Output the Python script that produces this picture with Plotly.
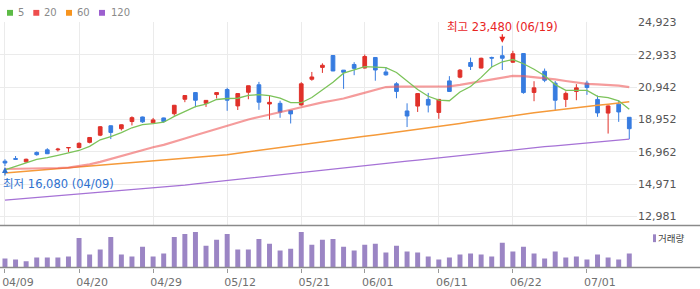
import plotly.graph_objects as go

# ---- data ----
dates = ["04/09","04/10","04/13","04/14","04/15","04/16","04/17","04/20","04/21","04/22",
         "04/23","04/24","04/27","04/28","04/29","04/30","05/04","05/06","05/07","05/08",
         "05/11","05/12","05/13","05/14","05/15","05/18","05/19","05/20","05/21","05/22",
         "05/26","05/27","05/28","05/29","06/01","06/02","06/04","06/05","06/08","06/09",
         "06/10","06/11","06/12","06/15","06/16","06/17","06/18","06/19","06/22","06/23",
         "06/24","06/25","06/26","06/29","06/30","07/01","07/02","07/03","07/06","07/07"]

open_ = [16380,16540,16340,16920,17080,17080,17200,17220,17540,17980,
         18560,18380,18820,19100,18740,19040,19300,20190,20600,19940,
         20480,20790,19780,20620,21080,19900,19940,19500,19840,21420,
         22150,22880,21980,22330,22110,22760,21870,21140,19470,19770,
         20180,19380,21320,21550,22450,22110,22760,22870,22470,23000,
         20610,21910,21180,20180,20670,21180,20180,19340,19890,19080]
high = [16500,16700,16540,16980,17180,17200,17230,17540,17860,18540,
        18580,18640,19140,19120,19040,19060,19840,20430,20620,20140,
        20610,20900,20560,21030,21260,20400,20100,19530,21240,21870,
        22400,22890,21990,22470,22940,22770,22170,21240,19940,20550,
        20580,20190,21610,22050,22750,22750,22810,23480,23170,23020,
        21300,22080,21310,20670,21120,21330,20420,19810,20130,19090]
low = [16080,16480,16280,16720,16820,16980,16940,17180,17480,17920,
       17740,18270,18580,18740,18700,18740,19180,20010,19700,19720,
       20240,19480,19530,20190,19540,18940,19050,18700,19800,21330,
       21810,21920,20830,21670,22090,21330,21640,20250,18480,19410,
       19380,18990,20650,21480,21990,22090,22170,21990,22420,20530,
       20070,21240,19500,19710,20130,20460,19110,18080,18800,17740]
close = [16270,16500,16500,16780,16840,17120,17220,17480,17840,18500,
         18150,18620,19060,18800,18920,18820,19820,20420,20130,20120,
         20600,20130,20540,21020,20010,20000,19400,19290,21140,21560,
         22280,21930,21850,22090,22820,21990,21690,20670,19160,20540,
         19830,20180,20670,21980,22210,22710,22720,22710,22990,20600,
         20890,21360,20130,20550,20890,20910,19350,19780,19410,18380]

ma5 = [15841,16080,16278,16500,16596,16740,16896,17040,17297,17699,
       17897,18137,18436,18634,18694,18778,19138,19438,19737,19893,
       20175,20235,20253,20433,20475,20415,20253,19977,19977,20295,
       20775,21236,21794,21974,22195,22171,22135,21836,21332,20793,
       20373,20133,20097,20637,20972,21536,22171,22495,22633,22375,
       22034,21632,21092,20733,20733,20733,20373,20295,20097,19575]
ma20 = [15901,15907,15919,15931,15943,15961,15990,16068,16188,16338,
        16518,16716,16920,17088,17237,17387,17567,17777,17975,18167,
        18359,18556,18766,18946,19096,19234,19378,19546,19695,19857,
        19995,20115,20235,20415,20595,20805,20942,20966,20972,20972,
        20972,20972,20984,21074,21194,21314,21434,21554,21632,21614,
        21554,21476,21416,21314,21224,21134,21104,21074,21032,20936]
ma60 = [15649,15703,15751,15805,15859,15907,15961,16014,16062,16116,
        16170,16218,16272,16326,16374,16428,16482,16530,16584,16638,
        16692,16782,16872,16962,17058,17148,17237,17327,17417,17507,
        17597,17675,17759,17837,17921,17999,18083,18161,18239,18323,
        18406,18502,18604,18700,18802,18898,19000,19096,19198,19276,
        19354,19432,19516,19593,19665,19737,19815,19887,19959,20037]
ma120 = [13982,14036,14090,14138,14192,14246,14300,14348,14402,14456,
         14510,14558,14612,14666,14720,14774,14845,14911,14983,15055,
         15121,15193,15265,15331,15403,15469,15541,15613,15679,15751,
         15823,15889,15961,16032,16098,16170,16236,16308,16380,16446,
         16518,16590,16656,16728,16794,16866,16938,17004,17076,17142,
         17213,17273,17327,17387,17441,17501,17561,17615,17675,17735]
volume = [140000,125000,95000,155000,155000,155000,170000,455000,200000,275000,
          470000,200000,170000,320000,170000,215000,470000,515000,545000,335000,
          425000,515000,275000,275000,440000,365000,260000,290000,545000,350000,
          425000,440000,320000,260000,350000,365000,230000,335000,245000,230000,
          170000,125000,155000,200000,215000,200000,170000,380000,245000,320000,
          215000,140000,245000,155000,170000,125000,200000,155000,125000,215000]

price_ticks = [12981, 14971, 16962, 18952, 20942, 22933, 24923]
date_ticks = ["04/09", "04/20", "04/29", "05/12", "05/21", "06/01", "06/11", "06/22", "07/01"]
ma_names = ["5", "20", "60", "120"]
ma_legend_colors = ["#5dbb46", "#ee4d4d", "#f7941e", "#9c5fcf"]

hi_idx = high.index(max(high))
lo_idx = low.index(min(low))

# ---- styles ----
W, H = 700, 289
RED = "#e0312a"
BLUE = "#377ce0"
VOLC = "#9b85c4"
FONT = "DejaVu Sans, Noto Sans CJK KR"


def py(p):
    return (H - p) / H


def px(p):
    return p / W


fig = go.Figure()

ma_styles = [
    (ma120, "#a672d6", 1.3),
    (ma60, "#f59a3a", 1.5),
    (ma20, "rgba(238,90,90,0.6)", 2.2),
    (ma5, "#7cc35a", 1.3),
]
for series, col, w in ma_styles:
    fig.add_trace(go.Scatter(x=dates, y=series, mode="lines",
                             line=dict(color=col, width=w),
                             hoverinfo="skip", showlegend=False,
                             xaxis="x", yaxis="y"))

fig.add_trace(go.Candlestick(
    x=dates, open=open_, high=high, low=low, close=close,
    increasing=dict(line=dict(color=RED, width=1), fillcolor=RED),
    decreasing=dict(line=dict(color=BLUE, width=1), fillcolor=BLUE),
    whiskerwidth=0, showlegend=False, hoverinfo="skip",
    xaxis="x", yaxis="y"))

fig.add_trace(go.Bar(x=dates, y=volume, marker=dict(color=VOLC, line=dict(width=0)),
                     width=0.47, showlegend=False, hoverinfo="skip",
                     xaxis="x2", yaxis="y2"))

xr = [-0.47, 59.73]
x_dom = [0, 637 / W]

fig.update_layout(
    width=W, height=H,
    margin=dict(l=0, r=0, t=0, b=0),
    paper_bgcolor="white", plot_bgcolor="white",
    showlegend=False,
    boxgap=0.5,
    font=dict(family=FONT, size=11, color="#555"),
    xaxis=dict(type="category", domain=x_dom, range=xr, anchor="y",
               showticklabels=False, ticks="", showgrid=True,
               gridcolor="#ebebeb", gridwidth=1,
               tickmode="array", tickvals=date_ticks,
               rangeslider=dict(visible=False), showline=False, zeroline=False),
    yaxis=dict(domain=[py(225), py(16.5)], range=[12423, 24935], side="right",
               anchor="x", tickmode="array", tickvals=price_ticks,
               ticktext=[f"{v:,}" for v in price_ticks],
               showgrid=True, gridcolor="#ebebeb", gridwidth=1, ticks="",
               tickfont=dict(family=FONT, size=11, color="#555"),
               showline=False, zeroline=False),
    xaxis2=dict(type="category", domain=x_dom, range=xr, anchor="y2",
                tickmode="array", tickvals=date_ticks, ticktext=date_ticks,
                ticks="outside", ticklen=4, tickcolor="#999", tickwidth=1,
                ticklabelshift=13,
                tickfont=dict(family=FONT, size=11, color="#707070"),
                showgrid=False, showline=False, zeroline=False),
    yaxis2=dict(domain=[py(268), py(225)], range=[0, 645000], anchor="x2",
                showticklabels=False, showgrid=False, ticks="", zeroline=False,
                showline=False),
)

shapes = []
# panel separator and baseline
for yy in (225, 268):
    shapes.append(dict(type="line", xref="paper", yref="paper", x0=0, x1=1,
                       y0=py(yy), y1=py(yy), line=dict(color="#8a8a8a", width=1.5)))
# legend squares
sq_x = [7, 33.3, 66, 99]
for xx, col in zip(sq_x, ma_legend_colors):
    shapes.append(dict(type="rect", xref="paper", yref="paper",
                       x0=px(xx), x1=px(xx + 6), y0=py(10), y1=py(4),
                       fillcolor=col, line=dict(width=0)))
# volume legend marker
shapes.append(dict(type="rect", xref="paper", yref="paper",
                   x0=px(653), x1=px(656), y0=py(242), y1=py(234),
                   fillcolor=VOLC, line=dict(width=0)))
fig.update_layout(shapes=shapes)

ann = []
txt_x = [16, 42, 75, 109]
for xx, name in zip(txt_x, ma_names):
    ann.append(dict(x=px(xx), y=py(6.8), xref="paper", yref="paper", text=name,
                    showarrow=False, xanchor="left", yanchor="middle",
                    font=dict(family=FONT, size=10, color="#8a8a8a")))
ann.append(dict(x=px(656), y=py(238), xref="paper", yref="paper", text="거래량",
                showarrow=False, xanchor="left", yanchor="middle",
                font=dict(family=FONT, size=9.5, color="#444")))
# max annotation
ann.append(dict(x=dates[hi_idx], y=py(21.7), xref="x", yref="paper",
                text=f"최고 {max(high):,} ({dates[hi_idx]})", showarrow=False,
                xanchor="center", yanchor="middle",
                font=dict(family=FONT, size=11.5, color="#e8251f")))
ann.append(dict(x=dates[hi_idx], y=max(high), xref="x", yref="y", text="",
                showarrow=True, ax=0, ay=-13, arrowhead=2, arrowsize=1,
                arrowwidth=1.2, arrowcolor="#e8251f", standoff=3))
# min annotation
ann.append(dict(x=px(1), y=py(182.7), xref="paper", yref="paper",
                text=f"최저 {min(low):,} ({dates[lo_idx]})", showarrow=False,
                xanchor="left", yanchor="middle",
                font=dict(family=FONT, size=11.5, color="#2f72d0")))
ann.append(dict(x=dates[lo_idx], y=min(low), xref="x", yref="y", text="",
                showarrow=True, ax=0, ay=11, arrowhead=2, arrowsize=1,
                arrowwidth=1.2, arrowcolor="#2f72d0", standoff=1))
fig.update_layout(annotations=ann)

fig.write_html("out.html", post_script="document.body.style.margin='0';")
